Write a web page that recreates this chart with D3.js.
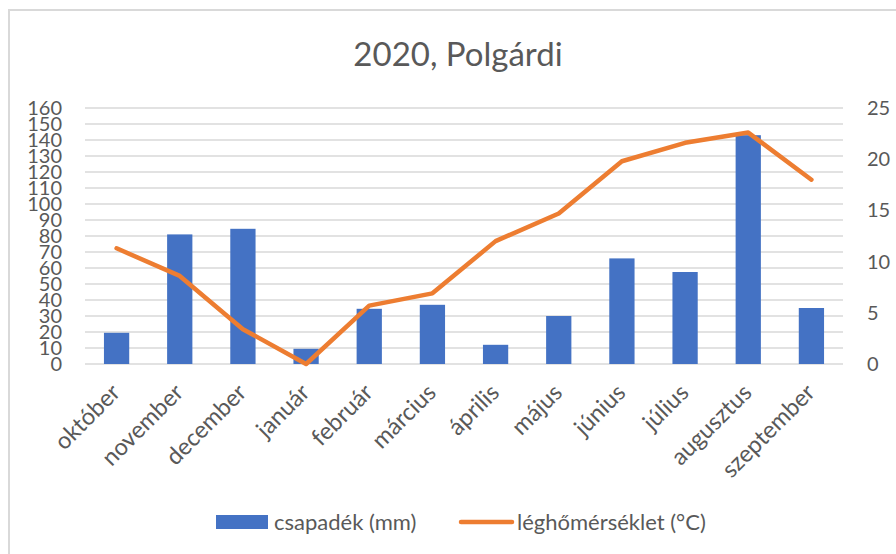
<!DOCTYPE html>
<html>
<head>
<meta charset="utf-8">
<script src="https://cdn.jsdelivr.net/npm/d3@7"></script>
<style>
  body { margin: 0; background: #fff; }
  text { font-family: Lato, "Open Sans", sans-serif; fill: #595959; }
</style>
</head>
<body>
<div id="main"></div>
<script>
var months = ["október", "november", "december", "január", "február", "március",
              "április", "május", "június", "július", "augusztus", "szeptember"];
var precip = [19.5, 81, 84.5, 9.5, 34.5, 37, 12, 30, 66, 57.5, 143, 35];
var temp = [11.3, 8.6, 3.4, 0, 5.7, 6.9, 12.0, 14.7, 19.8, 21.6, 22.6, 18.0];
var leftTicks = d3.range(0, 161, 10);
var rightTicks = [0, 5, 10, 15, 20, 25];

var W = 896, H = 554;
var margin = {top: 108, right: 53, bottom: 190, left: 85},
    width = W - margin.left - margin.right,
    height = H - margin.top - margin.bottom;

var svg = d3.select("#main")
  .append("svg")
    .attr("width", W)
    .attr("height", H);

// chart border
svg.append("rect")
  .attr("x", 9).attr("y", 10)
  .attr("width", W + 10).attr("height", H + 10)
  .attr("fill", "none")
  .attr("stroke", "#d9d9d9")
  .attr("stroke-width", 2);

svg.append("text")
  .attr("x", 458).attr("y", 66)
  .attr("text-anchor", "middle")
  .style("font-size", "33px")
  .text("2020, Polgárdi");

var g = svg.append("g")
  .attr("transform", "translate(" + margin.left + "," + margin.top + ")");

var x = d3.scaleBand()
  .domain(months)
  .range([0, width])
  .paddingInner(0.6)
  .paddingOuter(0.3);

var y = d3.scaleLinear().domain([0, 160]).range([height, 0]);
var y2 = d3.scaleLinear().domain([0, 25]).range([height, 0]);

// gridlines
g.selectAll(".grid")
  .data(leftTicks)
  .enter().append("line")
    .attr("x1", 0).attr("x2", width)
    .attr("y1", function(d) { return y(d); })
    .attr("y2", function(d) { return y(d); })
    .attr("stroke", "#d9d9d9")
    .attr("stroke-width", 1.5);

// left axis
var yAxis = g.append("g")
  .attr("transform", "translate(-23,0)")
  .call(d3.axisLeft(y).tickValues(leftTicks).tickSize(0).tickPadding(0));
yAxis.select(".domain").remove();
yAxis.selectAll("text").style("font-size", "20px").style("font-family", "Lato, sans-serif").attr("fill", "#595959");

// right axis
var yAxis2 = g.append("g")
  .attr("transform", "translate(" + (width + 24) + ",0)")
  .call(d3.axisRight(y2).tickValues(rightTicks).tickSize(0).tickPadding(0));
yAxis2.select(".domain").remove();
yAxis2.selectAll("text").style("font-size", "20px").style("font-family", "Lato, sans-serif").attr("fill", "#595959");

// bars
g.selectAll(".bar")
  .data(precip)
  .enter().append("rect")
    .attr("x", function(d, i) { return x(months[i]); })
    .attr("y", function(d) { return y(d); })
    .attr("width", x.bandwidth())
    .attr("height", function(d) { return height - y(d); })
    .attr("fill", "#4472c4");

// temperature line
var line = d3.line()
  .x(function(d, i) { return x(months[i]) + x.bandwidth() / 2; })
  .y(function(d) { return y2(d); });

g.append("path")
  .datum(temp)
  .attr("d", line)
  .attr("fill", "none")
  .attr("stroke", "#ed7d31")
  .attr("stroke-width", 4.5)
  .attr("stroke-linejoin", "round")
  .attr("stroke-linecap", "round");

// month labels
g.selectAll(".mlabel")
  .data(months)
  .enter().append("text")
    .attr("text-anchor", "end")
    .style("font-size", "23.5px")
    .attr("transform", function(d) {
      return "translate(" + (x(d) + x.bandwidth() / 2 + 5) + "," + (height + 30) + ")rotate(-45)";
    })
    .text(function(d) { return d; });

// legend
var leg = svg.append("g");
leg.append("rect")
  .attr("x", 216).attr("y", 515).attr("width", 52).attr("height", 14)
  .attr("fill", "#4472c4");
leg.append("text")
  .attr("x", 274).attr("y", 530)
  .style("font-size", "22px")
  .text("csapadék (mm)");
leg.append("line")
  .attr("x1", 461).attr("x2", 512).attr("y1", 522).attr("y2", 522)
  .attr("stroke", "#ed7d31").attr("stroke-width", 4.5)
  .attr("stroke-linecap", "round");
leg.append("text")
  .attr("x", 517).attr("y", 530)
  .style("font-size", "22px")
  .text("léghőmérséklet (°C)");
</script>
</body>
</html>
